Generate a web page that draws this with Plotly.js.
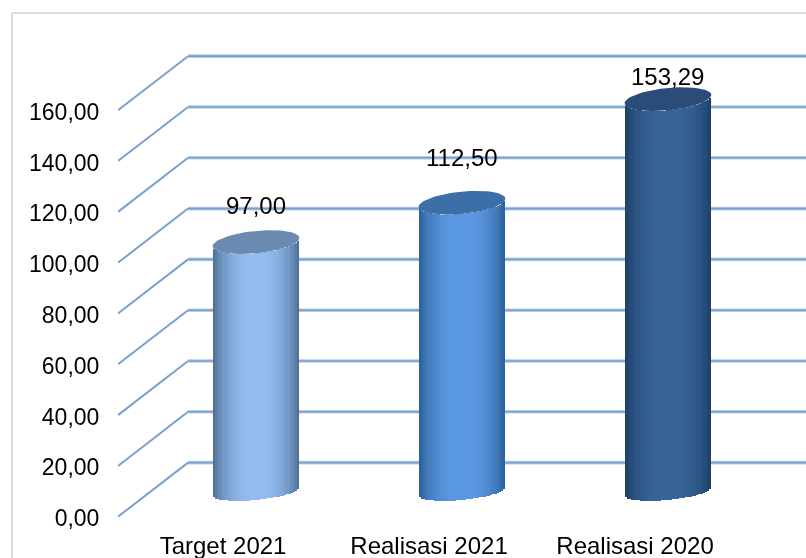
<!DOCTYPE html>
<html><head><meta charset="utf-8">
<script src="https://cdn.plot.ly/plotly-3.0.1.min.js"></script>
<style>html,body{margin:0;padding:0;background:#fff}#c{width:806px;height:558px;filter:blur(0.45px)}</style>
</head><body><div id="c"></div>
<script>
const categories = ['Target 2021','Realisasi 2021','Realisasi 2020'];
const values = [97.00, 112.50, 153.29];
const tickValues = [0,20,40,60,80,100,120,140,160];
const tickLabels = ['0,00','20,00','40,00','60,00','80,00','100,00','120,00','140,00','160,00'];
const labelLift = [15.7, 19.2, 10.1];

const edgeColors = ['#4d6d92','#2a5e98','#1d3f66'];
const midColors  = ['#93bcf0','#5b98e2','#37659a'];
const capColors  = ['#6a8ab1','#3c6ea8','#2b4c78'];

const depthX = 0.34, depthY = 21.3;      // oblique depth of the chart box, axis units
const halfW = 0.2105, capB = 4.4, baseB = 3.3, shear = 1.6, floorY = 9.9, topRaise = 1.2;
const frontLeft = -0.5, xEnd = 2.84, yMin = -2.48, yMax = 197.9;
const labelNudge = 0.6;
const N = 40;

function hex(c){return [1,3,5].map(i=>parseInt(c.substr(i,2),16));}
function mix(a,b,t){const A=hex(a),B=hex(b);return 'rgb('+A.map((v,i)=>Math.round(v+(B[i]-v)*t)).join(',')+')';}

const traces = [];
values.forEach((v,k)=>{
  const cx = k + depthX/2;
  const xs=[],base=[],h=[],cols=[],wid=[];
  for(let i=0;i<N;i++){
    const t = -1 + (i+0.5)*2/N;
    const y0 = floorY + shear*t - baseB*Math.sqrt(1-t*t);
    const y1 = floorY + topRaise + v + shear*t - capB*Math.sqrt(1-t*t);
    xs.push(cx+t*halfW); base.push(y0); h.push(y1-y0); wid.push(2*halfW/N);
    const s = Math.abs(t);
    cols.push(mix(midColors[k],edgeColors[k],Math.pow(s,2.6)));
  }
  traces.push({type:'bar',x:xs,y:h,base:base,width:wid,marker:{color:cols,line:{width:0}},hoverinfo:'skip',showlegend:false});
  const cxs=[],cys=[];
  for(let a=0;a<=72;a++){
    const th=a/72*2*Math.PI, c=Math.cos(th), sn=Math.sin(th);
    cxs.push(cx+halfW*c); cys.push(floorY+topRaise+v+shear*c+capB*sn);
  }
  traces.push({type:'scatter',mode:'lines',x:cxs,y:cys,fill:'toself',fillcolor:capColors[k],line:{width:0,color:capColors[k]},hoverinfo:'skip',showlegend:false});
});

const shapes=[];
tickValues.forEach(v=>{
  shapes.push({type:'line',layer:'below',xref:'x',yref:'y',x0:frontLeft,y0:v,x1:frontLeft+depthX,y1:v+depthY,line:{color:'#7aa0cc',width:2}});
  shapes.push({type:'line',layer:'below',xref:'x',yref:'y',x0:frontLeft+depthX,y0:v+depthY,x1:xEnd,y1:v+depthY,line:{color:'#b7cce4',width:3.6}});
  shapes.push({type:'line',layer:'below',xref:'x',yref:'y',x0:frontLeft+depthX,y0:v+depthY,x1:xEnd,y1:v+depthY,line:{color:'#7a9fcb',width:1.6}});
});
// outer chart frame
const W=688,H=509,plotBottom=523;
shapes.push({type:'line',layer:'below',xref:'paper',yref:'paper',x0:(12-118)/W,x1:(806-118)/W,y0:(plotBottom-13)/H,y1:(plotBottom-13)/H,line:{color:'#dcdcdc',width:2}});
shapes.push({type:'line',layer:'below',xref:'paper',yref:'paper',x0:(12-118)/W,x1:(12-118)/W,y0:(plotBottom-13)/H,y1:(plotBottom-558)/H,line:{color:'#dcdcdc',width:2}});

const annotations = values.map((v,k)=>({
  x:k+depthX/2,y:v+floorY+labelLift[k],xref:'x',yref:'y',showarrow:false,
  text:v.toFixed(2).replace('.',','),font:{family:'Liberation Sans, Arial, sans-serif',size:24,color:'#000'},
  xanchor:'center',yanchor:'middle'
}));

const layout={
  width:806,height:558,margin:{l:118,r:0,t:14,b:35,pad:0},
  paper_bgcolor:'#fff',plot_bgcolor:'rgba(0,0,0,0)',showlegend:false,barmode:'overlay',bargap:0,bargroupgap:0,
  font:{family:'Liberation Sans, Arial, sans-serif',size:23,color:'#000'},
  xaxis:{range:[frontLeft,xEnd],tickmode:'array',tickvals:[0.01,1.01,2.01],ticktext:categories,ticks:'outside',ticklen:1,tickcolor:'rgba(0,0,0,0)',tickfont:{size:24},showgrid:false,zeroline:false,showline:false,tickangle:0},
  yaxis:{range:[yMin,yMax],tickmode:'array',tickvals:tickValues.map(v=>v-labelNudge),ticktext:tickLabels,ticks:'outside',ticklen:13,tickcolor:'rgba(0,0,0,0)',showgrid:false,zeroline:false,showline:false},
  shapes:shapes,annotations:annotations
};
Plotly.newPlot('c',traces,layout,{displayModeBar:false,staticPlot:true});
</script></body></html>
